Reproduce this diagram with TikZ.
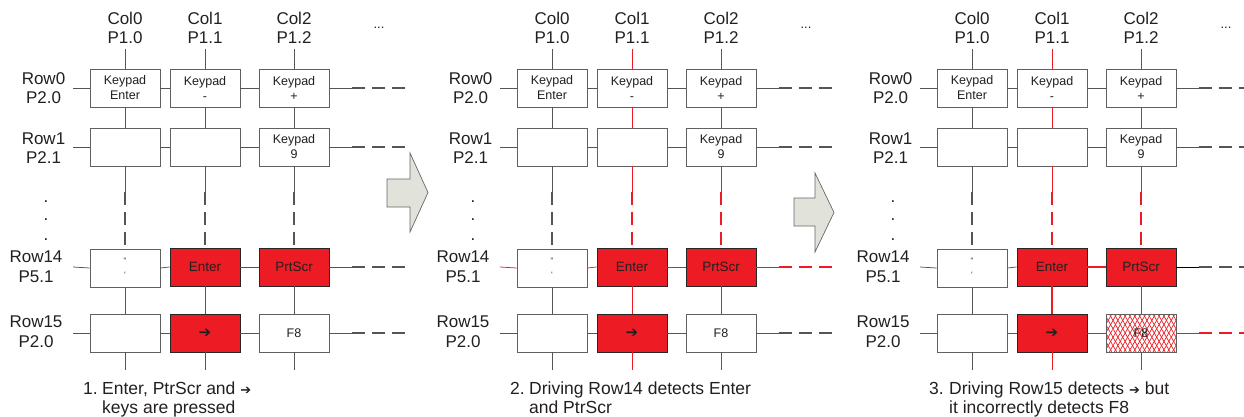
\documentclass[tikz,border=0pt]{standalone}
\usepackage{fontspec}
\setmainfont{Liberation Sans}
\newfontfamily\symfont{DejaVu Sans}
\usetikzlibrary{patterns.meta}
\definecolor{keyred}{HTML}{ED1C24}
\definecolor{ln}{HTML}{555555}
\definecolor{lndark}{HTML}{303030}
\definecolor{boxgray}{HTML}{606060}
\definecolor{arrowfill}{HTML}{E1E2DA}
\definecolor{txt}{HTML}{231F20}
\tikzset{
  key/.style={draw=boxgray, line width=0.9pt, fill=white, minimum width=70pt, minimum height=38pt,
    inner sep=0pt, align=center, text=txt, font=\fontsize{12.5}{15}\selectfont},
  pressed/.style={key, fill=keyred, draw=black!85, font=\fontsize{13.5}{15}\selectfont},
  hatched/.style={key,
    postaction={pattern={Lines[angle=60,distance=4.2pt,line width=0.7pt]}, pattern color=keyred},
    postaction={pattern={Lines[angle=120,distance=4.2pt,line width=0.7pt]}, pattern color=keyred},
    postaction={draw=boxgray, line width=0.9pt}},
  wire/.style={line width=0.75pt},
  dwire/.style={line width=1.3pt, dash pattern=on 12.5pt off 7.5pt},
  toplab/.style={anchor=base, inner sep=0pt, text=txt, font=\fontsize{17}{20}\selectfont},
  rowlab/.style={anchor=base, inner sep=0pt, text=txt, font=\fontsize{17}{20}\selectfont},
  caplab/.style={anchor=base west, inner sep=0pt, text=txt, font=\fontsize{17.5}{20}\selectfont},
  bigarrow/.style={fill=arrowfill, draw=black!60, line width=0.7pt, line join=miter}
}
% #1 prefix, #2 x offset, #3 style of F8 key, #4 col1 colour, #5 col2 colour, #6 row14 colour, #7 row15 colour
\newcommand\keypanel[7]{%
\begin{scope}[xshift=#2pt]
  \foreach \i/\x/\p in {0/125/1.0,1/205/1.1,2/294/1.2}{
    \node[toplab] (#1col\i) at (\x,25) {Col\i};
    \node[toplab] (#1pin\i) at (\x,43.5) {P\p};
    \coordinate (#1ct\i) at (\x,49);
    \coordinate (#1cd\i) at (\x,192);
    \coordinate (#1cb\i) at (\x,370);
  }
  \node[toplab, font=\fontsize{13}{15}\selectfont] (#1more) at (379,29) {...};
  \node[rowlab] (#1rl0) at (43.5,85) {Row0};
  \node[rowlab] (#1rp0) at (43.5,104) {P2.0};
  \node[rowlab] (#1rl1) at (43.5,144) {Row1};
  \node[rowlab] (#1rp1) at (43.5,163) {P2.1};
  \node[rowlab] (#1dot1) at (46,202) {.};
  \node[rowlab] (#1dot2) at (46,220) {.};
  \node[rowlab] (#1dot3) at (46,240) {.};
  \node[rowlab] (#1rl14) at (36,262) {Row14};
  \node[rowlab] (#1rp14) at (36,282) {P5.1};
  \node[rowlab] (#1rl15) at (36,327) {Row15};
  \node[rowlab] (#1rp15) at (36,347) {P2.0};
  % keys
  \node[key] (#1k00) at (125,88) {Keypad\\Enter};
  \node[key] (#1k10) at (205,88) {Keypad\\-};
  \node[key] (#1k20) at (294,88) {Keypad\\+};
  \node[key] (#1k01) at (125,147) {};
  \node[key] (#1k11) at (205,147) {};
  \node[key] (#1k21) at (294,147) {Keypad\\9};
  \node[key, font=\fontsize{8}{14}\selectfont] (#1k014) at (125,268) {“\\‘};
  \node[pressed] (#1k114) at (205,267) {Enter};
  \node[pressed] (#1k214) at (294,267) {PrtScr};
  \node[key] (#1k015) at (125,333) {};
  \node[pressed, font=\symfont\fontsize{15}{15}\selectfont] (#1k115) at (205,333) {➔};
  \node[#3] (#1k215) at (294,333) {F8};
  % columns
  \foreach \i/\cc in {0/ln,1/#4,2/#5}{
    \draw[wire, draw=\cc] (#1ct\i) -- (#1k\i0.north);
    \draw[wire, draw=\cc] (#1k\i0.south) -- (#1k\i1.north);
    \draw[wire, draw=\cc] (#1k\i1.south) -- (#1cd\i);
    \draw[dwire, draw=\cc] (#1cd\i) -- (#1k\i14.north);
    \draw[wire, draw=\cc] (#1k\i14.south) -- (#1k\i15.north);
    \draw[wire, draw=\cc] (#1k\i15.south) -- (#1cb\i);
  }
  % rows
  \foreach \r/\y/\cc in {0/88/ln,1/147/ln,14/267/#6,15/333/#7}{
    \coordinate (#1rs\r) at (73,\y);
    \coordinate (#1re\r) at (352,\y);
    \coordinate (#1rd\r) at (405,\y);
    \draw[wire, draw=\cc] (#1rs\r) -- (#1k0\r.west);
    \draw[wire, draw=\cc] (#1k0\r.east) -- (#1k1\r.west);
    \draw[wire, draw=\cc] (#1k1\r.east) -- (#1k2\r.west);
    \draw[wire, draw=\cc] (#1k2\r.east) -- (#1re\r);
    \draw[dwire, draw=\cc] (#1re\r) -- (#1rd\r);
  }
\end{scope}}

\begin{document}
\begin{tikzpicture}[x=1pt,y=-1pt]
\useasboundingbox (0,0) rectangle (1244,417);

\keypanel{a}{0}{key}{ln}{ln}{ln}{ln}
\keypanel{b}{427}{key}{keyred}{keyred}{keyred}{ln}
\keypanel{c}{847}{hatched}{keyred}{keyred}{ln}{keyred}

% sneak path highlights in panel 3
\draw[wire, draw=keyred, line width=1.8pt] (ck114.east) -- (ck214.west);
\draw[wire, draw=keyred, line width=1.8pt] (ck114.south) -- (ck115.north);
\draw[wire, draw=black] (ck214.east) -- (cre14);

% captions
\node[caplab] (anum) at (83,394) {1.};
\node[caplab] (acap1) at (102,394) {Enter, PtrScr and {\symfont\fontsize{13}{15}\selectfont ➔}};
\node[caplab] (acap2) at (102,413.5) {keys are pressed};
\node[caplab] (bnum) at (510,394) {2.};
\node[caplab] (bcap1) at (529,394) {Driving Row14 detects Enter};
\node[caplab] (bcap2) at (529,413.5) {and PtrScr};
\node[caplab] (cnum) at (929,394) {3.};
\node[caplab] (ccap1) at (949,394) {Driving Row15 detects {\symfont\fontsize{13}{15}\selectfont ➔} but};
\node[caplab] (ccap2) at (949,413.5) {it incorrectly detects F8};

% step arrows
\draw[bigarrow] (387,179) -- (410,179) -- (410,153) -- (428,192.5) -- (410,232) -- (410,207) -- (387,207) -- cycle;
\draw[bigarrow] (794,198) -- (815,198) -- (815,173) -- (834,212.5) -- (815,252) -- (815,226) -- (794,226) -- cycle;
\end{tikzpicture}
\end{document}
